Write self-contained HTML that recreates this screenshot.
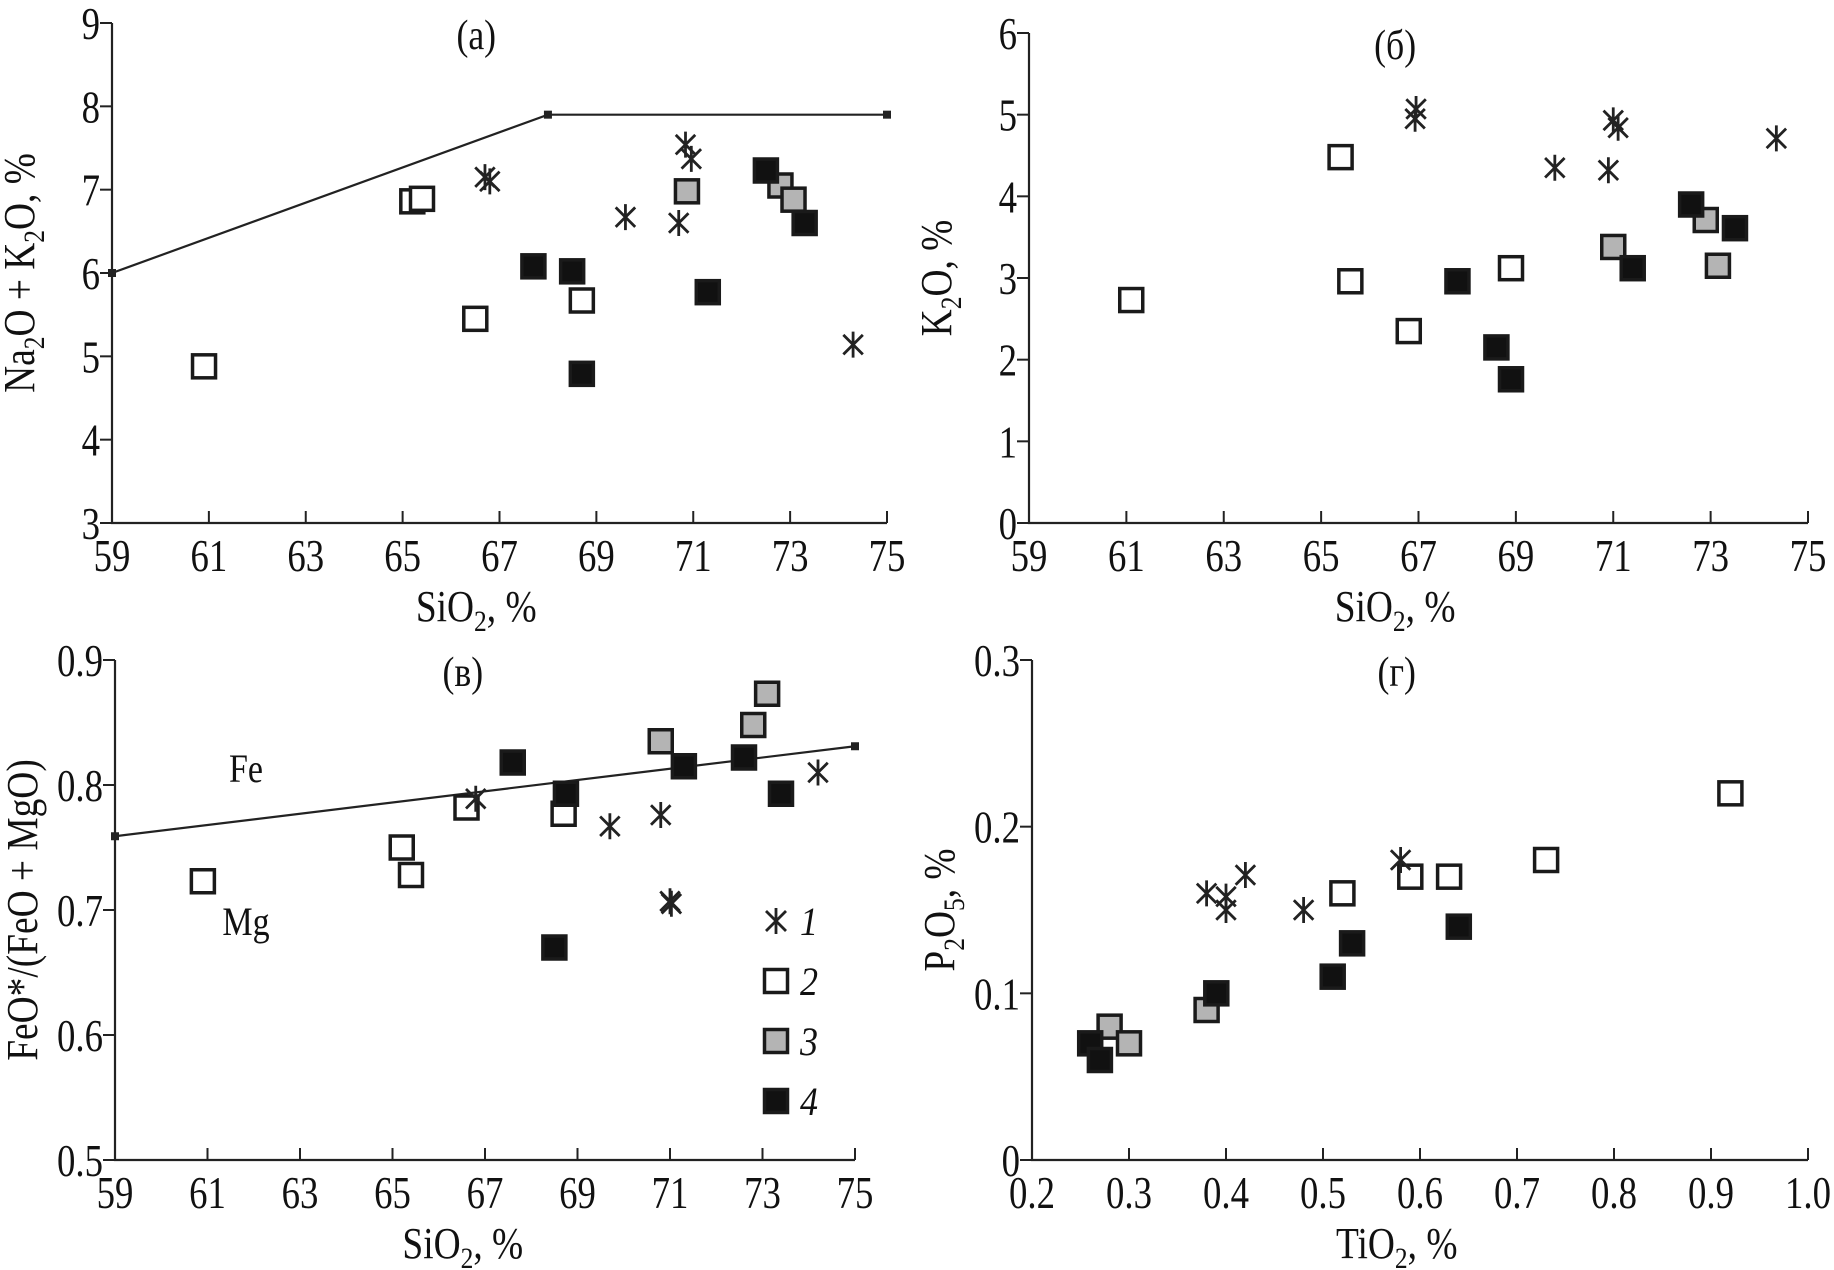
<!DOCTYPE html>
<html><head><meta charset="utf-8"><style>
html,body{margin:0;padding:0;background:#fff;}
svg{display:block;font-family:"Liberation Serif","DejaVu Serif",serif;}
</style></head><body>
<svg id="fig" width="1834" height="1270" viewBox="0 0 1834 1270"></svg>
<script>
// Panel a: SiO2 vs Na2O+K2O
const aX1=[66.7,66.8,70.84,70.96,69.6,70.7,74.3], aY1=[7.15,7.1,7.54,7.37,6.67,6.6,5.14];
const aX2=[65.2,65.4,66.5,68.7,60.9], aY2=[6.86,6.89,5.45,5.67,4.88];
const aX3=[70.87,72.8,73.07], aY3=[6.98,7.05,6.88];
const aX4=[72.5,73.3,67.7,68.5,71.3,68.7], aY4=[7.23,6.6,6.08,6.02,5.77,4.79];
const aLineX=[59,68,75], aLineY=[6,7.9,7.9];
// Panel б: SiO2 vs K2O
const bX1=[66.95,66.93,71.0,71.1,69.8,70.9,74.35], bY1=[5.07,4.95,4.93,4.84,4.35,4.32,4.71];
const bX2=[61.1,65.4,65.6,66.8,68.9], bY2=[2.73,4.48,2.96,2.35,3.12];
const bX3=[71.0,72.9,73.15], bY3=[3.38,3.71,3.15];
const bX4=[72.6,73.5,67.8,68.6,68.9,71.4], bY4=[3.9,3.61,2.96,2.15,1.76,3.12];
// Panel в: SiO2 vs FeO*/(FeO+MgO)
const cX1=[66.8,69.7,70.8,71.0,71.03,74.2], cY1=[0.789,0.767,0.776,0.707,0.705,0.81];
const cX2=[60.9,65.2,65.4,66.6,68.7], cY2=[0.723,0.75,0.728,0.782,0.777];
const cX3=[70.8,72.8,73.1], cY3=[0.835,0.848,0.873];
const cX4=[67.6,68.75,71.3,72.6,73.4,68.5], cY4=[0.818,0.793,0.815,0.822,0.793,0.67];
const cLineX=[59,75], cLineY=[0.759,0.831];
// Panel г: TiO2 vs P2O5
const dX1=[0.38,0.40,0.40,0.42,0.48,0.58], dY1=[0.16,0.158,0.15,0.171,0.15,0.18];
const dX2=[0.52,0.59,0.63,0.73,0.92], dY2=[0.16,0.17,0.17,0.18,0.22];
const dX3=[0.38,0.28,0.30], dY3=[0.09,0.08,0.07];
const dX4=[0.26,0.27,0.39,0.51,0.53,0.64], dY4=[0.07,0.06,0.10,0.11,0.13,0.14];
const sioTicks=["59","61","63","65","67","69","71","73","75"];
const aYTicks=["3","4","5","6","7","8","9"];
const bYTicks=["0","1","2","3","4","5","6"];
const cYTicks=["0.5","0.6","0.7","0.8","0.9"];
const dXTicks=["0.2","0.3","0.4","0.5","0.6","0.7","0.8","0.9","1.0"];
const dYTicks=["0","0.1","0.2","0.3"];

const NS="http://www.w3.org/2000/svg";
const svg=document.getElementById('fig');
function mk(tag,attrs,parent){const e=document.createElementNS(NS,tag);for(const k in attrs)e.setAttribute(k,attrs[k]);(parent||svg).appendChild(e);return e;}
function txt(s,x,y,size,anchor,parent,sx){const t=mk('text',{x:0,y:0,'font-size':size,'text-anchor':anchor||'middle',fill:'#111',transform:`translate(${x},${y}) scale(${sx||0.8},1)`},parent);t.innerHTML=s;return t;}

function panel(name,px0,px1,py0,py1,xmin,xmax,ymin,ymax,xt,yt,title,xlab,ylab){
  const g=mk('g',{});
  
  
  const sx=v=>px0+(v-xmin)/(xmax-xmin)*(px1-px0);
  const sy=v=>py1-(v-ymin)/(ymax-ymin)*(py1-py0);
  const ax=mk('path',{d:`M${px0},${py0}V${py1}H${px1}`,stroke:'#222','stroke-width':2.2,fill:'none'},g);
  
  
  xt.forEach(s=>{const v=parseFloat(s);const x=sx(v);
    mk('line',{x1:x,y1:py1,x2:x,y2:py1-12,stroke:'#222','stroke-width':2},g);
    const t=txt(s,x,py1+48,46,'middle',g);
    
    });
  yt.forEach(s=>{const v=parseFloat(s);const y=sy(v);
    mk('line',{x1:px0,y1:y,x2:px0-12,y2:y,stroke:'#222','stroke-width':2},g);
    const t=txt(s,px0-12,y+16,46,'end',g);
    
    });
  const tt=txt(title,(px0+px1)/2-(px1-px0)*0.03,py0+26,42,'middle',g,0.85);
  
  
  const xl=txt(xlab,(px0+px1)/2-(px1-px0)*0.03,py1+98,44,'middle',g,0.85);
  
  
  const yl=mk('text',{x:0,y:0,'font-size':44,'text-anchor':'middle',fill:'#111'},g);
  yl.innerHTML=ylab;
  yl.setAttribute('transform',`translate(${px0-78},${(py0+py1)/2}) rotate(-90) scale(0.85,1)`);
  
  
  return {g,sx,sy};
}
function star(p,x,y){
  const s=13,g=mk('g',{stroke:'#222','stroke-width':2.8,fill:'none'},p.g);
  
  
  const cx=p.sx(x),cy=p.sy(y);
  mk('path',{d:`M${cx},${cy-s}V${cy+s}M${cx-s*0.75},${cy-s*0.75}L${cx+s*0.75},${cy+s*0.75}M${cx-s*0.75},${cy+s*0.75}L${cx+s*0.75},${cy-s*0.75}`},g);
}
function sq(p,x,y,fill){
  const h=11.5;
  const r=mk('rect',{x:p.sx(x)-h,y:p.sy(y)-h,width:2*h,height:2*h,fill:fill,stroke:'#1a1a1a','stroke-width':3.5},p.g);
  
  
}
function drawSeries(p,X1,Y1,X2,Y2,X3,Y3,X4,Y4){
  X2.forEach((x,i)=>sq(p,x,Y2[i],'#fff'));
  X3.forEach((x,i)=>sq(p,x,Y3[i],'#b4b4b4'));
  X4.forEach((x,i)=>sq(p,x,Y4[i],'#111'));
  X1.forEach((x,i)=>star(p,x,Y1[i]));
}
function line(p,X,Y){
  const d=X.map((x,i)=>(i?'L':'M')+p.sx(x)+','+p.sy(Y[i])).join('');
  const l=mk('path',{d:d,stroke:'#222','stroke-width':2.2,fill:'none'},p.g);
  
  
  X.forEach((x,i)=>mk('rect',{x:p.sx(x)-4,y:p.sy(Y[i])-4,width:8,height:8,fill:'#222'},p.g));
}
const sub=n=>`<tspan font-size="30" dy="10">${n}</tspan><tspan dy="-10">`;
const pa=panel('panel-a',112,887,23,523,59,75,3,9,sioTicks,aYTicks,'(а)','SiO'+sub(2)+', %</tspan>','Na'+sub(2)+'O + K</tspan>'+sub(2)+'O, %</tspan>');
line(pa,aLineX,aLineY);
drawSeries(pa,aX1,aY1,aX2,aY2,aX3,aY3,aX4,aY4);

const pb=panel('panel-b',1029,1808,33,523,59,75,0,6,sioTicks,bYTicks,'(б)','SiO'+sub(2)+', %</tspan>','K'+sub(2)+'O, %</tspan>');
drawSeries(pb,bX1,bY1,bX2,bY2,bX3,bY3,bX4,bY4);

const pc=panel('panel-c',115,855,660,1160,59,75,0.5,0.9,sioTicks,cYTicks,'(в)','SiO'+sub(2)+', %</tspan>','FeO*/(FeO + MgO)');
line(pc,cLineX,cLineY);
drawSeries(pc,cX1,cY1,cX2,cY2,cX3,cY3,cX4,cY4);
const fe=txt('Fe',246,782,40,'middle',null,0.85);
const mg=txt('Mg',246,935,40,'middle',null,0.85);

const pd=panel('panel-d',1032,1808,660,1160,0.2,1.0,0,0.3,dXTicks,dYTicks,'(г)','TiO'+sub(2)+', %</tspan>','P'+sub(2)+'O</tspan>'+sub(5)+', %</tspan>');
drawSeries(pd,dX1,dY1,dX2,dY2,dX3,dY3,dX4,dY4);

// legend
const legendLabels=["1","2","3","4"];
const fills=[null,'#fff','#b4b4b4','#111'];
legendLabels.forEach((s,i)=>{
  const cx=776,cy=921+i*60;
  const g=mk('g',{});
  
  
  if(i===0){const k=13;mk('path',{d:`M${cx},${cy-k}V${cy+k}M${cx-10},${cy-10}L${cx+10},${cy+10}M${cx-10},${cy+10}L${cx+10},${cy-10}`,stroke:'#222','stroke-width':2.8,fill:'none'},g);}
  else mk('rect',{x:cx-11.5,y:cy-11.5,width:23,height:23,fill:fills[i],stroke:'#1a1a1a','stroke-width':3.5},g);
  const t=txt(s,800,cy+14,40,'start',g,0.9);t.setAttribute('font-style','italic');
});
</script>
</body></html>
